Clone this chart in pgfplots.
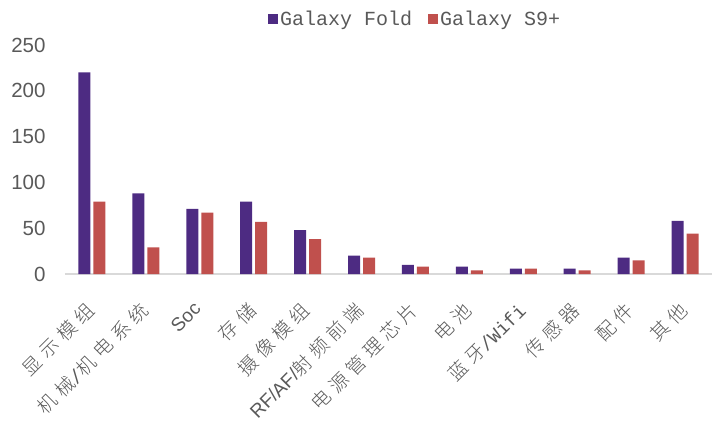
\documentclass[border=0pt]{standalone}
\usepackage{fontspec}
\setmainfont{Liberation Sans}
\newfontfamily\cjk[LetterSpace=28]{Noto Sans CJK SC Light}
\newfontfamily\legfont{Liberation Mono}
\newcommand{\la}[1]{{\fontspec{Liberation Sans}#1}}
\newcommand{\mo}[1]{{\fontspec{Liberation Mono}#1}}
\usepackage{pgfplots}
\pgfplotsset{compat=1.18}
\definecolor{foldc}{RGB}{77,43,130}
\definecolor{s9c}{RGB}{192,80,77}
\definecolor{txtc}{RGB}{89,89,89}
\definecolor{axc}{RGB}{217,217,217}
\begin{document}
\begin{tikzpicture}
\useasboundingbox (-65pt,-149pt) rectangle (647pt,274pt);
\begin{axis}[
    scale only axis,
    width=647pt, height=229pt,
    ybar=3pt, bar width=12pt,
    ymin=0, ymax=250,
    ytick={0,50,...,250},
    xmin=-0.5, xmax=11.5,
    xtick=data,
    xticklabels={显示模组,{机械\mo{/}机电系统},\la{Soc},存储,摄像模组,{\la{RF/AF/}射频前端},电源管理芯片,电池,{蓝牙\mo{/Wifi}},传感器,配件,其他},
    xticklabel style={rotate=45, anchor=north east, font=\cjk\fontsize{19}{19}\selectfont, text=txtc, inner sep=0pt, xshift=-24pt, yshift=-13.5pt},
    yticklabel style={font=\fontsize{20.5}{20.5}\selectfont, text=txtc, xshift=-16pt},
    /pgf/number format/assume math mode=true,
    axis x line*=bottom, axis y line*=left,
    x axis line style={draw=axc, line width=1.5pt},
    y axis line style={draw=none},
    major tick length=0pt,
    ytick style={draw=none}, xtick style={draw=none},
    axis line style={-},
    legend columns=2,
    legend style={draw=none, fill=none, at={(0.541,1)}, anchor=center, yshift=26pt,
        font=\legfont\fontsize{20}{20}\selectfont, text=txtc,
        /tikz/every even column/.append style={column sep=14pt}},
    legend image code/.code={\fill[#1] (0pt,-5pt) rectangle (10pt,5pt);},
]
\addplot[fill=foldc, draw=none] coordinates {(0,220) (1,88) (2,71) (3,79) (4,48) (5,20) (6,10) (7,8) (8,6) (9,6) (10,18) (11,58)};
\addplot[fill=s9c, draw=none] coordinates {(0,79) (1,29) (2,67) (3,57) (4,38) (5,18) (6,8) (7,4) (8,6) (9,4) (10,15) (11,44)};
\legend{Galaxy Fold, Galaxy S9+}
\end{axis}
\end{tikzpicture}
\end{document}
